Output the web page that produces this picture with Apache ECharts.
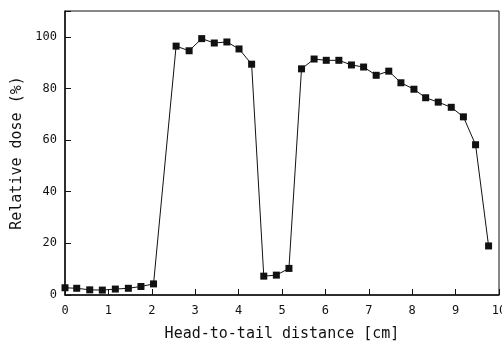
<!DOCTYPE html>
<html>
<head>
<meta charset="utf-8">
<script src="https://cdn.jsdelivr.net/npm/echarts@6/dist/echarts.min.js"></script>
<style>
  html, body { margin: 0; padding: 0; background: #fff; }
  #chart { width: 502px; height: 341px; }
</style>
</head>
<body>
<div id="chart"></div>
<script>
// head-to-tail distance (cm) and relative dose (%)
var distance = [0.00, 0.27, 0.57, 0.86, 1.16, 1.46, 1.75, 2.04,
  2.56, 2.86, 3.15, 3.44, 3.73, 4.01, 4.30,
  4.58, 4.87, 5.16,
  5.45, 5.74, 6.02, 6.31, 6.60, 6.88, 7.17, 7.46, 7.74, 8.04,
  8.31, 8.60, 8.90, 9.18, 9.46, 9.76];
var dose = [2.8, 2.6, 2.0, 1.9, 2.3, 2.6, 3.3, 4.3,
  96.4, 94.6, 99.3, 97.6, 98.0, 95.3, 89.4,
  7.3, 7.7, 10.3,
  87.6, 91.4, 90.9, 90.9, 89.1, 88.3, 85.1, 86.7, 82.2, 79.7,
  76.4, 74.7, 72.7, 69.0, 58.2, 19.0];

var font = '"DejaVu Sans Mono", monospace';

var chart = echarts.init(document.getElementById('chart'));

var points = distance.map(function (d, i) {
  return [d, dose[i]];
});

chart.setOption({
  animation: false,
  grid: {
    left: 65, right: 3, top: 11, bottom: 46,
    outerBoundsMode: 'none',
    containLabel: false,
    show: true,
    borderColor: '#111',
    borderWidth: 1
  },
  xAxis: {
    type: 'value',
    min: 0, max: 10, interval: 1,
    name: 'Head-to-tail distance [cm]',
    nameLocation: 'middle',
    nameGap: 32,
    nameTextStyle: { fontFamily: font, fontSize: 15, color: '#111' },
    axisLine: { lineStyle: { color: '#111', width: 1.5 } },
    axisTick: { inside: true, length: 6, lineStyle: { color: '#111' } },
    axisLabel: { fontFamily: font, fontSize: 12, color: '#111', margin: 10 },
    splitLine: { show: false }
  },
  yAxis: {
    type: 'value',
    min: 0, max: 110, interval: 20,
    name: 'Relative dose (%)',
    nameLocation: 'middle',
    nameGap: 38,
    nameTextStyle: { fontFamily: font, fontSize: 15, color: '#111' },
    axisLine: { show: true, lineStyle: { color: '#111', width: 1.5 } },
    axisTick: { inside: true, length: 6, lineStyle: { color: '#111' } },
    axisLabel: {
      fontFamily: font, fontSize: 12, color: '#111', margin: 8,
      formatter: function (v) { return v > 100 ? '' : v; }
    },
    splitLine: { show: false }
  },
  series: [{
    type: 'line',
    data: points,
    symbol: 'rect',
    symbolSize: 7,
    lineStyle: { color: '#111', width: 1 },
    itemStyle: { color: '#111' }
  }]
});
</script>
</body>
</html>
